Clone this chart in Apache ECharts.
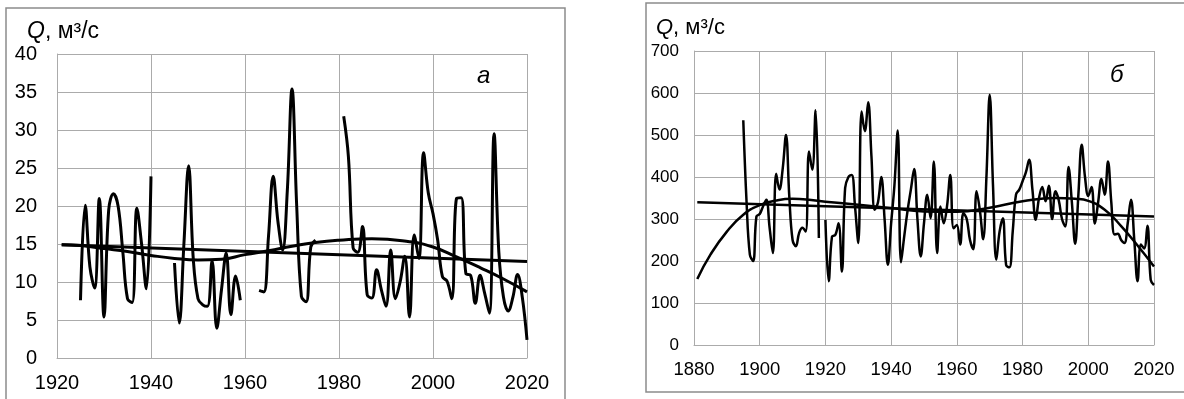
<!DOCTYPE html>
<html><head><meta charset="utf-8">
<script src="https://cdn.jsdelivr.net/npm/echarts@6/dist/echarts.min.js"></script>
<style>html,body{margin:0;padding:0;background:#fff}#c{width:1184px;height:399px}</style>
</head><body><div id="c"></div>
<script>
// ---- Panel a (left) ----
const leftStartYear = 1925;
const leftQ = [
  7.6, 20.1, 12, 9.2, 21.0, 5.4, 19.5, 21.6, 20, 14, 7.8, 7.3, 19.7, 15, 9.1, 23.9, // 1925-1940
  null, null, null, null,                                                          // 1941-1944
  12.5, 4.6, 15, 25.3, 13, 7.8, 7.0, 6.8, 12.8, 3.9, 9, 13.8, 5.7, 10.8, 7.6,      // 1945-1959
  null, null, null,                                                                // 1960-1962
  8.9, 8.7, 16, 23.9, 18, 14.2, 22, 35.4, 20, 8.1, 7.4, 14.6, 15.5,                // 1963-1975
  null, null, null, null, null,                                                    // 1976-1980
  31.8, 26.5, 14.5, 13.9, 17.3, 8.3, 7.9, 11.6, 9, 6.8, 14.2, 7.8, 10, 13.4, 5.4,  // 1981-1995
  16.2, 13.1, 27.0, 21.7, 19.0, 15.5, 10.7, 10.1, 7.8, 21.0, 21.1, 11.1, 10.9,     // 1996-2008
  7.2, 10.9, 8.5, 5.9, 29.5, 14, 8, 6.2, 8, 11.0, 8, 2.4                           // 2009-2020
];
const leftLinYears = [1921, 2020];
const leftLin = [14.9, 12.7];
const leftPolyYears = [1921, 1925, 1930, 1935, 1940, 1945, 1950, 1955, 1960, 1965, 1970, 1975, 1980, 1987, 1995, 2000, 2005, 2010, 2015, 2020];
const leftPoly = [14.9, 14.8, 14.4, 14.0, 13.5, 13.1, 12.9, 13.0, 13.6, 14.1, 14.7, 15.2, 15.5, 15.7, 15.3, 14.6, 13.3, 11.9, 10.4, 8.7];
const leftXTicks = [1920, 2020, 20];
const leftYTicks = [0, 40, 5];

// ---- Panel б (right) ----
const rightStartYear = 1895;
const rightQ = [
  535, 340, 215, 200, 306, 312, 330, 346, 280, 219,      // 1895-1904
  408, 370, 420, 500, 354, 250, 235, 267, 279, 270,      // 1905-1914
  461, 417, 559, 255, null,                              // 1915-1919
  298, 152, 258, 262, 290, 175, 374, 400, 405, 330,      // 1920-1929
  243, 556, 509, 578, 450, 322, 340, 400, 300, 191,      // 1930-1939
  290, 380, 511, 197, 260, 320, 370, 419, 300, 211,      // 1940-1949
  290, 358, 302, 437, 219, 330, 290, 330, 405, 278,      // 1950-1959
  286, 239, 314, 300, 250, 228, 366, 321, 252, 400,      // 1960-1969
  596, 380, 203, 270, 302, 190, 185, 270, 358, 370,      // 1970-1979
  390, 411, 441, 370, 298, 350, 376, 342, 379, 300,      // 1980-1989
  366, 345, 300, 282, 424, 340, 241, 360, 477, 400,      // 1990-1999
  355, 376, 289, 340, 395, 358, 437, 340, 263, 265,      // 2000-2009
  250, 243, 290, 346, 250, 152, 239, 230, 284, 155, 143  // 2010-2020
];
const rightLinYears = [1881, 2020];
const rightLin = [340, 306];
const rightPolyYears = [1881, 1885, 1890, 1895, 1900, 1905, 1910, 1915, 1920, 1930, 1940, 1950, 1960, 1970, 1980, 1990, 1996, 2000, 2005, 2010, 2015, 2020];
const rightPoly = [157, 215, 270, 310, 333, 344, 348, 346, 341, 334, 326, 318, 317, 327, 342, 350, 348, 343, 322, 283, 237, 187];
const rightXTicks = [1880, 2020, 20];
const rightYTicks = [0, 700, 100];

const yTitle = '{q|Q}{t|, м³/с}';

function seq(start, vals) { return vals.map((v, i) => [start + i, v === null ? '-' : v]); }
function pairs(xs, ys) { return xs.map((x, i) => [x, ys[i]]); }

const FONT = '"Liberation Sans", Arial, sans-serif';
const GRIDC = '#ababab';

function xAxis(gi, t, fs, margin) {
  return { type: 'value', gridIndex: gi, min: t[0], max: t[1], interval: t[2],
    axisLine: { show: true, lineStyle: { color: GRIDC, width: 1 } }, axisTick: { show: false },
    splitLine: { show: true, lineStyle: { color: GRIDC, width: 1 } },
    axisLabel: { color: '#000', fontFamily: FONT, fontSize: fs, margin: margin, formatter: v => String(v) } };
}
function yAxis(gi, t, fs, margin) {
  return { type: 'value', gridIndex: gi, min: t[0], max: t[1], interval: t[2],
    axisLine: { show: true, lineStyle: { color: GRIDC, width: 1 } }, axisTick: { show: false },
    splitLine: { show: true, lineStyle: { color: GRIDC, width: 1 } },
    axisLabel: { color: '#000', fontFamily: FONT, fontSize: fs, margin: margin, formatter: v => String(v) } };
}
function line(gi, data, w, smooth) {
  return { type: 'line', xAxisIndex: gi, yAxisIndex: gi, data: data, showSymbol: false, symbol: 'none',
    smooth: smooth, connectNulls: false, lineStyle: { color: '#000', width: w }, silent: true, animation: false };
}
function titleStyle(fs) {
  return { fontFamily: FONT, fontSize: fs, fontWeight: 'normal', color: '#000',
    rich: { q: { fontFamily: FONT, fontSize: fs, fontStyle: 'italic', color: '#000' },
            t: { fontFamily: FONT, fontSize: fs, color: '#000' } } };
}

const chart = echarts.init(document.getElementById('c'), null, { renderer: 'canvas' });
chart.setOption({
  animation: false,
  backgroundColor: '#fff',
  grid: [
    { left: 57, top: 54, width: 470, height: 304, show: false },
    { left: 694, top: 51, width: 460, height: 294, show: false }
  ],
  xAxis: [xAxis(0, leftXTicks, 20, 15), xAxis(1, rightXTicks, 18.5, 15)],
  yAxis: [yAxis(0, leftYTicks, 20, 20), yAxis(1, rightYTicks, 17, 15)],
  title: [
    { text: yTitle, left: 27, top: 20, padding: 0, textStyle: titleStyle(23) },
    { text: yTitle, left: 656, top: 17, padding: 0, textStyle: titleStyle(22) },
    { text: 'a', left: 477, top: 64, padding: 0, textStyle: { fontFamily: FONT, fontSize: 24, fontStyle: 'italic', fontWeight: 'normal', color: '#000' } },
    { text: 'б', left: 1110, top: 63, padding: 0, textStyle: { fontFamily: FONT, fontSize: 24, fontStyle: 'italic', fontWeight: 'normal', color: '#000' } }
  ],
  graphic: [
    { type: 'rect', shape: { x: 6, y: 8, width: 559, height: 420 }, style: { fill: 'none', stroke: '#8c8c8c', lineWidth: 1.5 }, silent: true },
    { type: 'rect', shape: { x: 646, y: 3, width: 620, height: 389 }, style: { fill: 'none', stroke: '#8c8c8c', lineWidth: 1.5 }, silent: true }
  ],
  series: [
    line(0, pairs(leftLinYears, leftLin), 3, false),
    line(0, pairs(leftPolyYears, leftPoly), 3, true),
    line(0, seq(leftStartYear, leftQ), 3, 0.4),
    line(1, pairs(rightLinYears, rightLin), 2.5, false),
    line(1, pairs(rightPolyYears, rightPoly), 2.5, true),
    line(1, seq(rightStartYear, rightQ), 2.5, 0.4)
  ]
});
</script></body></html>
